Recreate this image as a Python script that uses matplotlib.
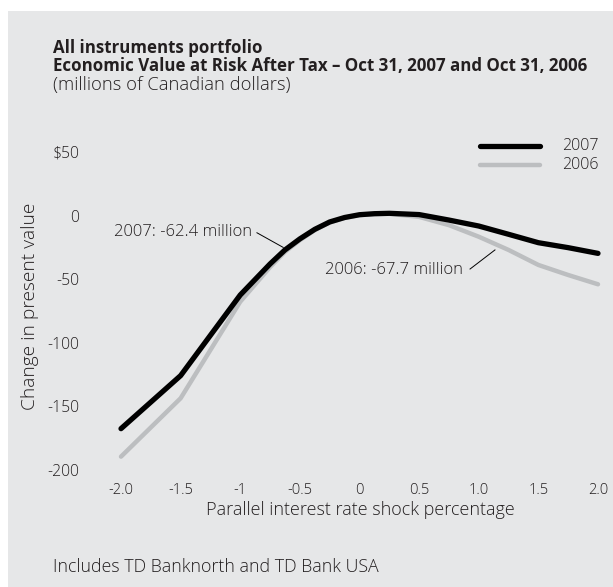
import matplotlib
matplotlib.use("Agg")
import matplotlib.pyplot as plt
from matplotlib.patches import Rectangle

# ---- data ----
shock = [-2.0, -1.5, -1.0, -0.75, -0.625, -0.5, -0.375, -0.25, -0.125, 0.0, 0.125, 0.25,
         0.5, 0.75, 1.0, 1.25, 1.5, 1.75, 2.0]
ev_2007 = [-167.5, -125.8, -62.4, -38.0, -27.0, -18.3, -10.8, -5.0, -1.5, 0.7, 1.5, 1.8,
           0.8, -3.5, -8.2, -14.7, -21.3, -25.2, -29.7]
ev_2006 = [-189.5, -143.6, -67.7, -40.5, -28.5, -19.3, -11.4, -5.4, -1.8, 0.4, 1.2, 1.4,
           -1.0, -7.5, -16.6, -27.0, -38.8, -46.7, -54.0]
x_ticks = [-2.0, -1.5, -1.0, -0.5, 0.0, 0.5, 1.0, 1.5, 2.0]
x_tick_labels = ["-2.0", "-1.5", "-1", "-0.5", "0", "0.5", "1.0", "1.5", "2.0"]
y_ticks = [50, 0, -50, -100, -150, -200]
y_tick_labels = ["$50", "0", "-50", "-100", "-150", "-200"]
series_labels = ["2007", "2006"]
note_2007 = "2007: -62.4 million"
note_2006 = "2006: -67.7 million"

FONT = "Open Sans"
TXT = "#231f20"
BG = "#e6e7e8"
BLACK = "#000000"
GREY = "#bcbec0"
LIGHT = 300

W, H = 613, 587
fig = plt.figure(figsize=(W / 100, H / 100), dpi=100)
fig.patch.set_facecolor("white")
fig.patches.append(Rectangle((8 / W, 0), 1 - 8 / W, 1 - 11 / H, transform=fig.transFigure,
                             facecolor=BG, edgecolor="none", zorder=-10))

def fx(px):
    return px / W

def fy(py):
    return 1 - py / H

ax = fig.add_axes([fx(121), fy(470), fx(598) - fx(121), fy(152) - fy(470)])
ax.set_zorder(1)
ax.set_facecolor("none")
ax.set_xlim(-2.0, 2.0)
ax.set_ylim(-200, 50)
for s in ax.spines.values():
    s.set_visible(False)

ax.plot(shock, ev_2006, color=GREY, lw=3.2, solid_capstyle="round", solid_joinstyle="round",
        clip_on=False, zorder=3)
ax.plot(shock, ev_2007, color=BLACK, lw=3.8, solid_capstyle="round", solid_joinstyle="round",
        clip_on=False, zorder=4)

ax.set_xticks(x_ticks)
ax.set_xticklabels(x_tick_labels, fontfamily=FONT, fontsize=10.5, color=TXT, fontweight=LIGHT)
ax.set_yticks(y_ticks)
ax.set_yticklabels(y_tick_labels, fontfamily=FONT, fontsize=11.3, color=TXT, fontweight=LIGHT)
ax.tick_params(axis="x", length=0, pad=9)
ax.tick_params(axis="y", length=0, pad=30)

fig.text(fx(360), fy(510), "Parallel interest rate shock percentage", ha="center", va="center",
         fontfamily=FONT, fontsize=13.0, color=TXT, fontweight=LIGHT)
fig.text(fx(30), fy(306), "Change in present value", ha="center", va="center", rotation=90,
         fontfamily=FONT, fontsize=13.8, color=TXT, fontweight=LIGHT)

# titles
TITLE_FS = 12.2
fig.text(fx(53), fy(48), "All instruments portfolio", ha="left", va="center",
         fontfamily=FONT, fontsize=TITLE_FS, fontweight="bold", color=TXT)
fig.text(fx(53), fy(66), "Economic Value at Risk After Tax \u2013 Oct 31, 2007 and Oct 31, 2006",
         ha="left", va="center", fontfamily=FONT, fontsize=TITLE_FS, fontweight="bold", color=TXT)
fig.text(fx(53), fy(85), "(millions of Canadian dollars)", ha="left", va="center",
         fontfamily=FONT, fontsize=13.2, color=TXT, fontweight=LIGHT)
fig.text(fx(53), fy(567), "Includes TD Banknorth and TD Bank USA", ha="left", va="center",
         fontfamily=FONT, fontsize=12.8, color=TXT, fontweight=LIGHT)

# legend
for i, (lab, col, lw) in enumerate(zip(series_labels, [BLACK, GREY], [3.8, 3.2])):
    yy = fy(146 + 19 * i)
    fig.add_artist(plt.Line2D([fx(480), fx(540)], [yy, yy], color=col, lw=lw,
                              solid_capstyle="round", transform=fig.transFigure))
    fig.text(fx(562), yy, lab, ha="left", va="center", fontfamily=FONT, fontsize=11.5,
             color=TXT, fontweight=LIGHT)

# annotations
ax.text(-0.90, -12.9, note_2007, ha="right", va="center", fontfamily=FONT, fontsize=12.0,
        color=TXT, fontweight=LIGHT)
ax.plot([-0.86, -0.64], [-13.5, -25.0], color=BLACK, lw=0.7, clip_on=False, zorder=5)
ax.text(0.868, -42.8, note_2006, ha="right", va="center", fontfamily=FONT, fontsize=12.0,
        color=TXT, fontweight=LIGHT)
ax.plot([0.927, 1.136], [-42.0, -27.0], color=BLACK, lw=0.7, clip_on=False, zorder=5)

fig.savefig("out.png", dpi=100, facecolor=fig.get_facecolor())
